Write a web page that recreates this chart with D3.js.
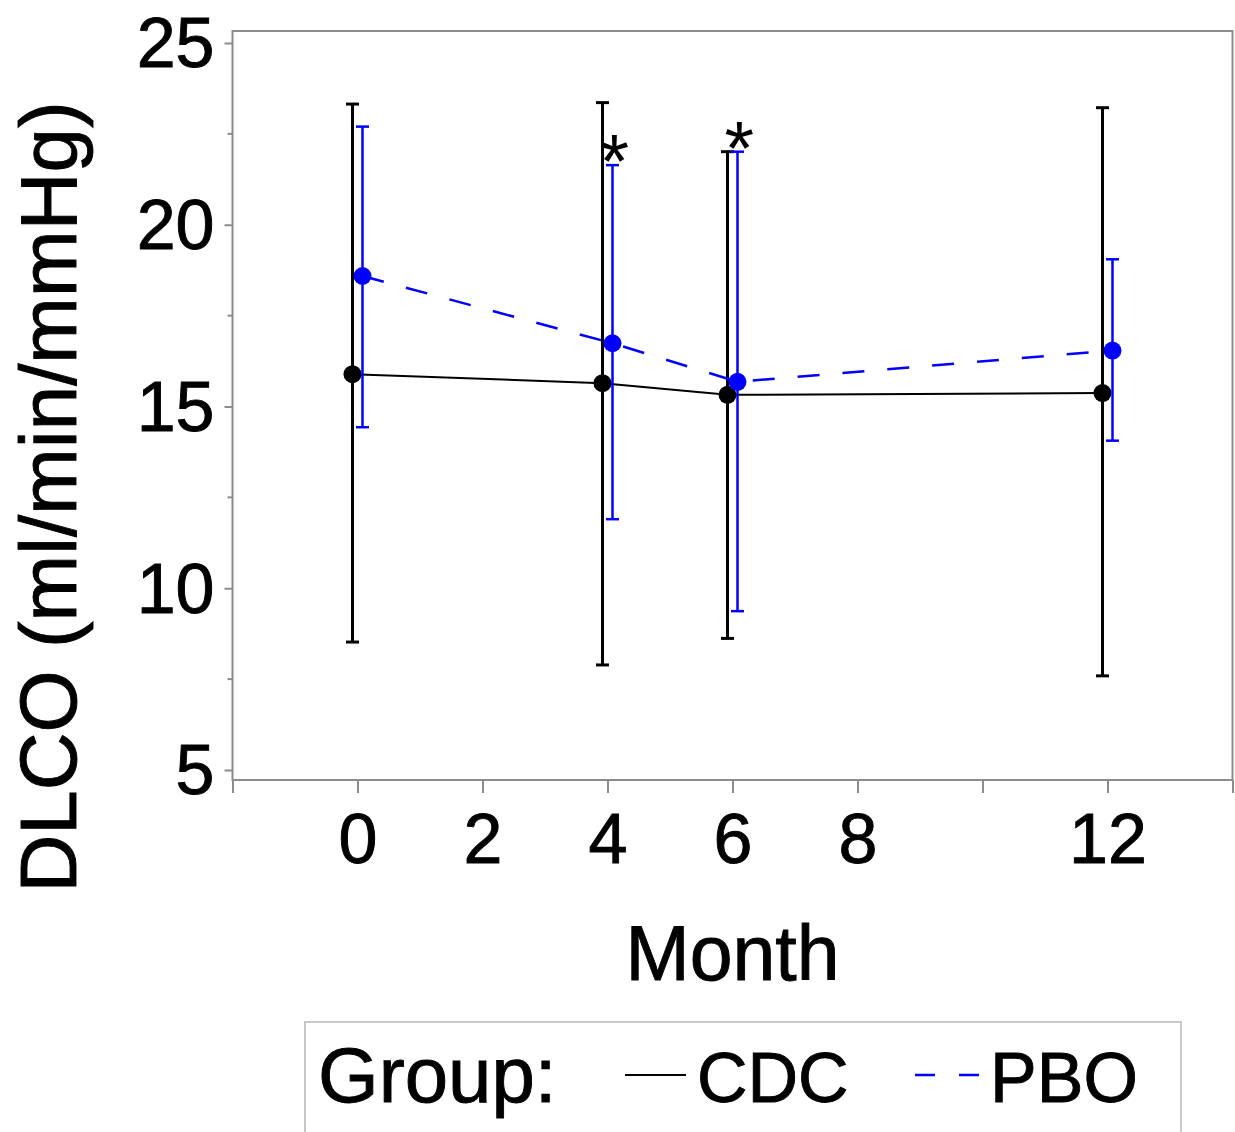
<!DOCTYPE html>
<html>
<head>
<meta charset="utf-8">
<script src="https://cdnjs.cloudflare.com/ajax/libs/d3/7.8.5/d3.min.js"></script>
<style>
  body { margin: 0; background: #fff; }
  text { font-family: "Liberation Sans", Arial, sans-serif; fill: #000; stroke: #000; stroke-width: 0.9px; }
  text.star { stroke: none; }
</style>
</head>
<body>
<div class="chart"></div>
<script>
// data
var months = [0, 4, 6, 12];
var cdcMean = [15.89, 15.64, 15.32, 15.37];
var cdcLow = [8.52, 7.89, 8.62, 7.59];
var cdcHigh = [23.32, 23.36, 22.01, 23.22];
var pboMean = [18.59, 16.74, 15.68, 16.54];
var pboLow = [14.43, 11.90, 9.37, 14.06];
var pboHigh = [22.70, 21.64, 22.01, 19.05];
var starMonths = [4, 6];

var xTicks = [-2, 0, 2, 4, 6, 8, 10, 12, 14];
var xTickLabels = [0, 2, 4, 6, 8, 12];
var yTicks = [5, 10, 15, 20, 25];
var yMinorTicks = [7.5, 12.5, 17.5, 22.5];

var svgWidth = 1235;
var svgHeight = 1132;

// plot frame (window.top is reserved, so use other names)
var frameLeft = 232.5, frameRight = 1232.5, frameTop = 31, frameBottom = 780;

var svg = d3.select(".chart")
  .append("svg")
  .attr("width", svgWidth)
  .attr("height", svgHeight);

svg.append("rect").attr("width", svgWidth).attr("height", svgHeight).attr("fill", "#fff");

var xScale = d3.scaleLinear().domain([-2, 14]).range([frameLeft, frameRight]);
var yScale = d3.scaleLinear().domain([5, 25]).range([770, 43]);

var frameColor = "#8c8c8c";

// frame
svg.append("rect")
  .attr("x", frameLeft).attr("y", frameTop)
  .attr("width", frameRight - frameLeft).attr("height", frameBottom - frameTop)
  .attr("fill", "none").attr("stroke", frameColor).attr("stroke-width", 2);

// x axis
var xAxis = d3.axisBottom(xScale)
  .tickValues(xTicks)
  .tickSize(13)
  .tickPadding(20)
  .tickFormat(d => xTickLabels.indexOf(d) >= 0 ? d : "");

var gx = svg.append("g")
  .attr("transform", `translate(0, ${frameBottom})`)
  .call(xAxis);
gx.select(".domain").remove();
gx.selectAll("line").attr("stroke", frameColor).attr("stroke-width", 2);
gx.selectAll("text")
  .attr("font-size", 70)
  .attr("font-family", "Liberation Sans, Arial, sans-serif")
  .attr("fill", "#000");

// y axis
var yAxis = d3.axisLeft(yScale)
  .tickValues(yTicks)
  .tickSize(8)
  .tickPadding(10);

var gy = svg.append("g")
  .attr("transform", `translate(${frameLeft}, 0)`)
  .call(yAxis);
gy.select(".domain").remove();
gy.selectAll("line").attr("stroke", frameColor).attr("stroke-width", 2);
gy.selectAll("text")
  .attr("font-size", 70)
  .attr("dy", "0.34em")
  .attr("font-family", "Liberation Sans, Arial, sans-serif")
  .attr("fill", "#000");

svg.append("g").selectAll("line")
  .data(yMinorTicks)
  .enter()
  .append("line")
  .attr("x1", frameLeft - 5).attr("x2", frameLeft)
  .attr("y1", d => yScale(d)).attr("y2", d => yScale(d))
  .attr("stroke", frameColor).attr("stroke-width", 2);

// axis titles
svg.append("text")
  .attr("x", (frameLeft + frameRight) / 2)
  .attr("y", 980)
  .attr("text-anchor", "middle")
  .attr("font-size", 77)
  .text("Month");

svg.append("text")
  .attr("transform", "translate(76, 497) rotate(-90)")
  .attr("text-anchor", "middle")
  .attr("font-size", 80)
  .text("DLCO (ml/min/mmHg)");

// series
var groups = [
  { name: "CDC", color: "#000", offset: -0.08, mean: cdcMean, low: cdcLow, high: cdcHigh, dash: null, barWidth: 3, lineWidth: 2 },
  { name: "PBO", color: "#0000ff", offset: 0.08, mean: pboMean, low: pboLow, high: pboHigh, dash: "22,23", barWidth: 2.5, lineWidth: 2.5 }
];

groups.forEach(function (g) {
  var pts = months.map((m, i) => ({ m: m, mean: g.mean[i], low: g.low[i], high: g.high[i] }));
  var px = d => xScale(d.m + g.offset);

  var line = d3.line().x(px).y(d => yScale(d.mean));
  svg.append("path")
    .datum(pts)
    .attr("d", line)
    .attr("fill", "none")
    .attr("stroke", g.color)
    .attr("stroke-width", g.lineWidth)
    .attr("stroke-dasharray", g.dash);

  var bars = svg.append("g").selectAll("g")
    .data(pts)
    .enter()
    .append("g");

  bars.append("line")
    .attr("x1", px).attr("x2", px)
    .attr("y1", d => yScale(d.low)).attr("y2", d => yScale(d.high))
    .attr("stroke", g.color).attr("stroke-width", g.barWidth);

  bars.append("line")
    .attr("x1", d => px(d) - 6.5).attr("x2", d => px(d) + 6.5)
    .attr("y1", d => yScale(d.high)).attr("y2", d => yScale(d.high))
    .attr("stroke", g.color).attr("stroke-width", g.barWidth);

  bars.append("line")
    .attr("x1", d => px(d) - 6.5).attr("x2", d => px(d) + 6.5)
    .attr("y1", d => yScale(d.low)).attr("y2", d => yScale(d.low))
    .attr("stroke", g.color).attr("stroke-width", g.barWidth);

  bars.append("circle")
    .attr("cx", px)
    .attr("cy", d => yScale(d.mean))
    .attr("r", 9)
    .attr("fill", g.color);
});

// significance stars above the PBO bars
svg.append("g").selectAll("text")
  .data(starMonths)
  .enter()
  .append("text")
  .attr("class", "star")
  .attr("x", d => xScale(d + 0.11))
  .attr("y", d => yScale(pboHigh[months.indexOf(d)]) + 22)
  .attr("text-anchor", "middle")
  .attr("font-size", 76)
  .text("*");

// legend
var legend = svg.append("g");
legend.append("rect")
  .attr("x", 305).attr("y", 1022)
  .attr("width", 876).attr("height", 140)
  .attr("fill", "#fff").attr("stroke", "#c8c8c8").attr("stroke-width", 2);

legend.append("text").attr("x", 318).attr("y", 1102).attr("font-size", 78).text("Group:");

legend.append("line")
  .attr("x1", 625).attr("x2", 686).attr("y1", 1075).attr("y2", 1075)
  .attr("stroke", "#000").attr("stroke-width", 2);
legend.append("text").attr("x", 697).attr("y", 1102).attr("font-size", 70).text("CDC");

legend.append("line")
  .attr("x1", 915).attr("x2", 980).attr("y1", 1075).attr("y2", 1075)
  .attr("stroke", "#0000ff").attr("stroke-width", 2.5)
  .attr("stroke-dasharray", "20,24");
legend.append("text").attr("x", 990).attr("y", 1102).attr("font-size", 70).text("PBO");
</script>
</body>
</html>
